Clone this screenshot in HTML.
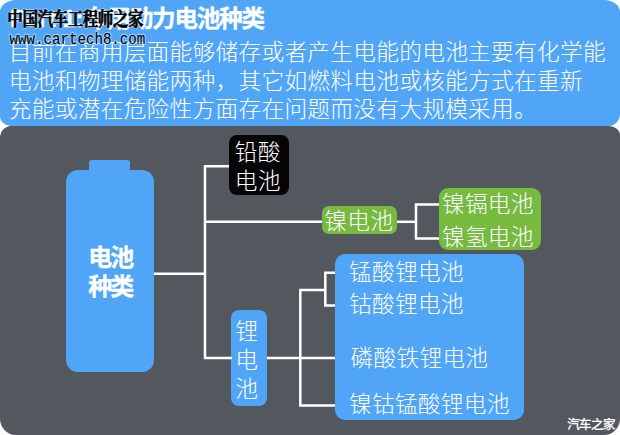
<!DOCTYPE html>
<html lang="zh-CN">
<head>
<meta charset="utf-8">
<title>Part 1: 车用动力电池种类</title>
<style>
html,body{margin:0;padding:0;background:#fff}
body{width:620px;height:435px;overflow:hidden;font-family:"Liberation Sans",sans-serif}
#stage{position:relative;width:620px;height:435px;overflow:hidden;background:#fff}
#stage>div,#stage>svg,#stage>p,#stage>h1,#stage>span{position:absolute;margin:0}
.hdr{left:0;top:0;width:620px;height:126px;background:#50a5f7;border-radius:16px 16px 11px 11px/12px 12px 12.5px 10px}
.main{left:0;top:125.8px;width:620px;height:309.2px;background:#53585f;border-radius:11px 11px 16px 16px/12px 9.5px 16.5px 16.5px}
.cap{left:88.6px;top:160px;width:41.2px;height:16px;background:#50a5f7;border-radius:3px}
.batt{left:66px;top:170.3px;width:88px;height:201.7px;background:#50a5f7;border-radius:12px}
.pb{left:229px;top:135px;width:60px;height:59.6px;background:#050505;border-radius:8px}
.ni{left:322.2px;top:206px;width:74.8px;height:28.2px;background:#76ba40;border-radius:7px}
.ni2{left:439px;top:187.8px;width:102.2px;height:62px;background:#76ba40;border-radius:9px}
.li{left:231px;top:310.2px;width:35.6px;height:96px;background:#50a5f7;border-radius:8px}
.li2{left:334.8px;top:253.6px;width:189.6px;height:166px;background:#50a5f7;border-radius:10px}
svg{left:0;top:0;width:620px;height:435px;overflow:hidden}
.t{color:transparent;white-space:nowrap;font-size:22.6px;line-height:1;letter-spacing:.1px;font-weight:normal}
.url{left:9.4px;top:32px;font-family:"Liberation Mono",monospace;font-size:14.2px;line-height:16px;color:transparent;white-space:nowrap}
</style>
</head>
<body>
<div id="stage">
<div class="hdr"></div>
<div class="main"></div>
<div class="cap"></div>
<div class="batt"></div>
<div class="pb"></div>
<div class="ni"></div>
<div class="ni2"></div>
<div class="li"></div>
<div class="li2"></div>
<svg viewBox="0 0 620 435" aria-hidden="true" fill="none" stroke="#fff" stroke-width="2.5" stroke-linejoin="miter">
<path d="M154 273.8H205"/>
<path d="M229 166.3H205V358H232"/>
<path d="M205 221.8H322"/>
<path d="M397 221.8H416"/>
<path d="M439 204.6H416V238.4H439"/>
<path d="M267 358H335"/>
<path d="M325.3 290H300.3V405.6H335"/>
<path d="M335 272.8H325.3V305.6H335"/>
</svg>
<svg viewBox="0 0 620 435" aria-hidden="true" style="font-family:'Liberation Sans','Noto Sans CJK SC',sans-serif">
<g fill="#fff" stroke="#fff" stroke-width=".33" font-size="23.6" font-weight="bold">
<text x="10" y="26.6">Part 1:</text>
<text x="85" y="26.6" textLength="180" lengthAdjust="spacing">车用动力电池种类</text>
</g>
<g fill="#fff" font-size="22.7" font-weight="300">
<text x="8.82" y="60.3" textLength="596.8" lengthAdjust="spacing">目前在商用层面能够储存或者产生电能的电池主要有化学能</text>
<text x="8.82" y="88.7" textLength="573.8" lengthAdjust="spacing">电池和物理储能两种，其它如燃料电池或核能方式在重新</text>
<text x="8.82" y="117.1" textLength="527.9" lengthAdjust="spacing">充能或潜在危险性方面存在问题而没有大规模采用。</text>
</g>
<g fill="#fff" stroke="#fff" stroke-width=".33" font-size="24" font-weight="bold">
<text x="88.2" y="265.9" textLength="46" lengthAdjust="spacing">电池</text>
<text x="88.2" y="294.9" textLength="46" lengthAdjust="spacing">种类</text>
</g>
<g fill="#fff" font-size="22.7" font-weight="300">
<text x="234.72" y="160.4" textLength="45.8" lengthAdjust="spacing">铅酸</text>
<text x="234.72" y="189.4" textLength="45.8" lengthAdjust="spacing">电池</text>
<text x="324.22" y="229.2" textLength="68.7" lengthAdjust="spacing">镍电池</text>
<text x="441.92" y="212.2" textLength="91.6" lengthAdjust="spacing">镍镉电池</text>
<text x="441.92" y="245" textLength="91.6" lengthAdjust="spacing">镍氢电池</text>
<text x="235.32" y="339">锂</text>
<text x="235.32" y="368.2">电</text>
<text x="235.32" y="397.2">池</text>
<text x="349.02" y="279.6" textLength="114.5" lengthAdjust="spacing">锰酸锂电池</text>
<text x="349.02" y="312.4" textLength="114.5" lengthAdjust="spacing">钴酸锂电池</text>
<text x="350.62" y="365.6" textLength="137.4" lengthAdjust="spacing">磷酸铁锂电池</text>
<text x="349.02" y="412.2" textLength="160.3" lengthAdjust="spacing">镍钴锰酸锂电池</text>
</g>
<text x="567.2" y="428.9" font-size="12.5" fill="#fff" stroke="#fff" stroke-width=".35" textLength="48.2" lengthAdjust="spacing">汽车之家</text>
<g transform="translate(7.3 25.9) scale(0.8 1)" font-size="19.5" font-weight="bold" style="font-family:'Liberation Serif','Noto Serif CJK SC',serif">
<text x="0" y="0" fill="#fff" stroke="#fff" stroke-width="2.2" stroke-linejoin="round" opacity=".45" textLength="170.4" lengthAdjust="spacing">中国汽车工程师之家</text>
<text x="0" y="0" fill="#000" stroke="#000" stroke-width=".6" textLength="170.4" lengthAdjust="spacing">中国汽车工程师之家</text>
</g>
<g transform="translate(9.6 44.1) scale(1 1.13)" font-size="14.15" style="font-family:'Liberation Mono',monospace">
<text x="0" y="0" fill="#fff" stroke="#fff" stroke-width="2.1" stroke-linejoin="round" opacity=".4">www.cartech8.com</text>
<text x="0" y="0" fill="#000">www.cartech8.com</text>
</g>
</svg>
<h1 class="t" style="left:10px;top:4px;font-size:23px;line-height:28px;font-weight:bold;letter-spacing:-.4px">Part 1: 车用动力电池种类</h1>
<p class="t" style="left:9px;top:37px;line-height:28.2px">目前在商用层面能够储存或者产生电能的电池主要有化学能<br>电池和物理储能两种，其它如燃料电池或核能方式在重新<br>充能或潜在危险性方面存在问题而没有大规模采用。</p>
<div class="t" style="left:88px;top:242px;font-size:23px;line-height:29px;font-weight:bold;letter-spacing:0">电池<br>种类</div>
<div class="t" style="left:235px;top:136px;line-height:29px">铅酸<br>电池</div>
<div class="t" style="left:324px;top:206px;line-height:28px">镍电池</div>
<div class="t" style="left:442px;top:188px;line-height:32.8px">镍镉电池<br>镍氢电池</div>
<div class="t" style="left:237px;top:315px;line-height:29.1px;width:23px;white-space:normal">锂电池</div>
<div class="t" style="left:349px;top:256px;line-height:32.8px">锰酸锂电池<br>钴酸锂电池</div>
<div class="t" style="left:351px;top:342px;line-height:28px">磷酸铁锂电池</div>
<div class="t" style="left:349px;top:389px;line-height:28px">镍钴锰酸锂电池</div>
<div class="t" style="left:567px;top:417px;font-size:12px;line-height:13px;letter-spacing:0">汽车之家</div>
<div class="t" style="left:8px;top:8px;font-size:15px;line-height:20px;letter-spacing:0">中国汽车工程师之家</div>
<span class="url">www.cartech8.com</span>
</div>
</body>
</html>
